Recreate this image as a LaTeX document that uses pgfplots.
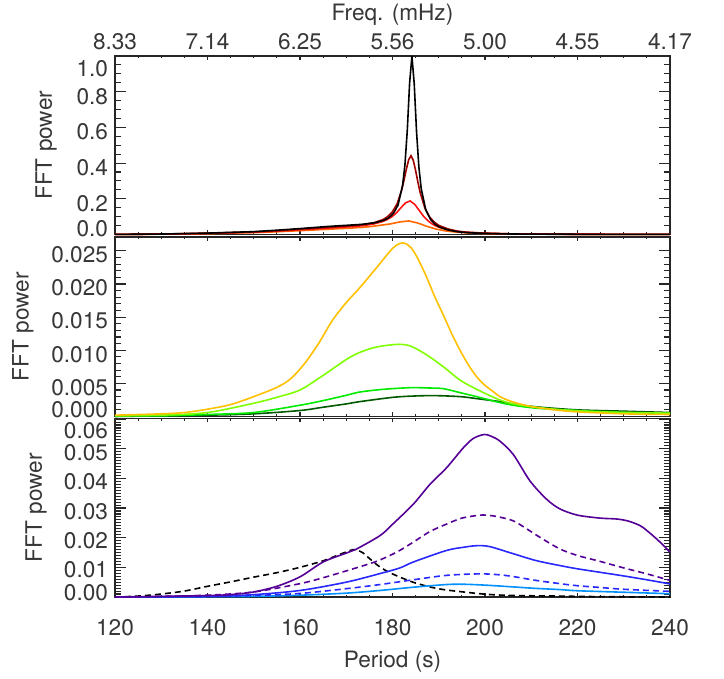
\documentclass[border=0pt]{standalone}
\usepackage{fontspec}
\setmainfont{TeX Gyre Heros}
\usepackage{pgfplots}
\pgfplotsset{compat=1.18}
\definecolor{cDarkRed}{RGB}{160,0,0}
\definecolor{cRed}{RGB}{255,20,20}
\definecolor{cOrange}{RGB}{255,105,0}
\definecolor{cGold}{RGB}{255,192,0}
\definecolor{cLime}{RGB}{128,255,0}
\definecolor{cGreen}{RGB}{0,235,0}
\definecolor{cDkGreen}{RGB}{0,90,0}
\definecolor{cPurple}{RGB}{85,0,150}
\definecolor{cBlue}{RGB}{40,40,255}
\definecolor{cLtBlue}{RGB}{0,145,255}
\definecolor{txt}{RGB}{55,55,55}
\newcommand{\tl}[2]{\smash{\raisebox{#1}{#2}}}
\newcommand{\fs}{\fontsize{11.3}{13.5}\selectfont}
\pgfplotsset{
  panel/.style={
    scale only axis, width=277.5pt, height=89.25pt,
    anchor=south west,
    xmin=120, xmax=240, xtick={120,140,160,180,200,220,240},
    minor x tick num=3,
    tick align=inside, tick pos=both,
    scaled y ticks=false, scaled x ticks=false,
    /pgf/number format/assume math mode=true,
    axis line style={line width=0.7pt, black!85},
    xtick style={black!85, line width=0.55pt, /pgfplots/major tick length=2pt, /pgfplots/minor tick length=1.1pt},
    ytick style={black!85, line width=0.55pt, /pgfplots/major tick length=5.5pt, /pgfplots/minor tick length=2.8pt},
    tick label style={font=\fs, text=txt},
    yticklabel style={anchor=east},
    label style={font=\fs, text=txt},
    ylabel={FFT power},
    clip=false,
    every axis plot/.append style={line width=0.8pt, mark=none},
  },
  dsh/.style={dash pattern=on 3pt off 2pt},
}
\begin{document}
\begin{tikzpicture}
\path[use as bounding box] (0pt,0pt) rectangle (362pt,339.5pt);

% ---------------- top panel ----------------
\begin{axis}[panel, at={(57.5pt,222.25pt)},
  ymin=0, ymax=1.0, ytick={0,0.2,0.4,0.6,0.8,1.0}, minor y tick num=3,
  yticklabels={\tl{-0.9pt}{0.0},\tl{-6.3pt}{0.2},\tl{-6.3pt}{0.4},\tl{-6.3pt}{0.6},\tl{-6.3pt}{0.8},\tl{-10.2pt}{1.0}},
  xticklabel pos=upper,
  xticklabels={8.33,7.14,6.25,5.56,5.00,4.55,4.17},
  xticklabel style={anchor=base, yshift=3.1pt},
  xlabel={Freq. (mHz)},
  xlabel style={at={(axis description cs:0.5,1)}, anchor=base, yshift=17.6pt},
  ylabel style={at={(axis description cs:-0.124,0.5)}, anchor=center},
]
\addplot[cOrange] coordinates {(120,0.0004)(130,0.0018)(140,0.005)(150,0.0104)(155,0.0151)(160,0.0214)(165.5,0.0285)(168.5,0.0327)(170.5,0.035)(173.5,0.040)(175.5,0.045)(177.5,0.052)(179.5,0.059)(181.5,0.070)(183.5,0.076)(185.5,0.064)(187.5,0.045)(189.5,0.030)(191.5,0.020)(193.5,0.014)(195.5,0.010)(199.5,0.0059)(203.5,0.0037)(210,0.0021)(220,0.0011)(230,0.0007)(240,0.0005)};
\addplot[cRed] coordinates {(120,0.0004)(130,0.0021)(140,0.0062)(150,0.0129)(155,0.0186)(160,0.0264)(165.5,0.035)(168.5,0.040)(170.5,0.043)(173.5,0.049)(175.8,0.058)(177.8,0.072)(178.8,0.083)(179.8,0.098)(180.8,0.120)(181.8,0.149)(182.8,0.177)(183.8,0.188)(184.8,0.169)(185.8,0.134)(186.8,0.099)(187.8,0.074)(188.8,0.055)(189.8,0.043)(191.8,0.027)(193.8,0.0173)(195.8,0.012)(199.8,0.0069)(203.8,0.0043)(210,0.0024)(220,0.0013)(230,0.0008)(240,0.0005)};
\addplot[cDarkRed] coordinates {(120,0.0005)(130,0.0023)(140,0.007)(150,0.0144)(155,0.021)(160,0.030)(165.5,0.039)(168.5,0.045)(170.5,0.048)(173.5,0.055)(176.0,0.066)(178.0,0.084)(179.0,0.101)(180.0,0.128)(181.0,0.172)(182.0,0.250)(182.5,0.305)(183.0,0.367)(183.5,0.419)(184.0,0.441)(184.5,0.415)(185.0,0.358)(185.5,0.292)(186.0,0.233)(187.0,0.148)(188.0,0.099)(189.0,0.070)(190.0,0.051)(192.0,0.031)(194.0,0.019)(196.0,0.013)(200.0,0.0075)(205,0.0039)(210,0.0026)(220,0.0014)(230,0.0008)(240,0.0006)};
\addplot[black] coordinates {(120,0.0003)(130,0.0025)(140,0.0077)(150,0.016)(155,0.024)(160,0.033)(165.5,0.044)(168.5,0.049)(170.5,0.052)(173.5,0.057)(176.2,0.066)(178.2,0.080)(179.2,0.094)(180.2,0.118)(181.2,0.165)(182.2,0.278)(182.7,0.394)(183.2,0.585)(183.7,0.848)(184.2,1.000)(184.7,0.843)(185.2,0.575)(185.7,0.379)(186.2,0.258)(187.2,0.137)(188.2,0.085)(189.2,0.057)(190.2,0.041)(192.2,0.024)(194.2,0.015)(196.2,0.010)(200.2,0.0055)(205,0.0029)(210,0.0019)(220,0.0010)(230,0.0006)(240,0.0004)};
\end{axis}

% ---------------- middle panel ----------------
\begin{axis}[panel, at={(57.5pt,131.25pt)}, height=89.75pt,
  ymin=0, ymax=0.0271, ytick={0,0.005,0.010,0.015,0.020,0.025}, minor y tick num=4,
  yticklabels={\tl{-0.3pt}{0.000},\tl{-5.9pt}{0.005},\tl{-5.9pt}{0.010},\tl{-5.9pt}{0.015},\tl{-5.9pt}{0.020},\tl{-5.9pt}{0.025}},
  xticklabels={},
  ylabel style={at={(axis description cs:-0.166,0.5)}, anchor=center},
  every axis plot/.append style={smooth, tension=0.5},
]
\addplot[cDkGreen] coordinates {(120,0.0000)(130,0.0001)(140,0.0002)(150,0.0004)(160,0.0009)(165,0.0014)(170,0.0019)(173,0.00225)(180.2,0.0029)(185,0.0031)(189.2,0.00315)(194.6,0.0030)(198.2,0.0027)(203.2,0.00225)(207,0.0018)(212,0.0014)(220,0.0010)(230,0.0008)(240,0.0006)};
\addplot[cGreen] coordinates {(120,0.0001)(130,0.0001)(140,0.0003)(150,0.0006)(160,0.0017)(165,0.0024)(170,0.0032)(173,0.0037)(178,0.0041)(183.8,0.00435)(188,0.0043)(191,0.0042)(194.6,0.0036)(198.2,0.0030)(203.2,0.0021)(207,0.0016)(212,0.0012)(220,0.0009)(230,0.0006)(240,0.0005)};
\addplot[cLime] coordinates {(120,0.0001)(130,0.0002)(140,0.0006)(150,0.0020)(155,0.0029)(160,0.0040)(165,0.0062)(170,0.0086)(173,0.0097)(176.6,0.0105)(181.3,0.0109)(184,0.0106)(187.4,0.0093)(191,0.0075)(194.6,0.0055)(198.2,0.0041)(203.2,0.0025)(207,0.0018)(215,0.0011)(225,0.0007)(240,0.0005)};
\addplot[cGold] coordinates {(120,0.0002)(130,0.0004)(135,0.0006)(140,0.0011)(145,0.0018)(150,0.0030)(155,0.0044)(158,0.0057)(161,0.0080)(164,0.0110)(167,0.0145)(170,0.0172)(173,0.0195)(176.6,0.0225)(180.2,0.0255)(182.3,0.0262)(184,0.0255)(185.5,0.0238)(187.4,0.0210)(189,0.0183)(191,0.0153)(192.8,0.0125)(194.6,0.0100)(196.4,0.0078)(198.2,0.0060)(200,0.0047)(201.8,0.00375)(203.2,0.0030)(206,0.0022)(210,0.0015)(215,0.0010)(220,0.0007)(230,0.0004)(240,0.0003)};
\end{axis}

% ---------------- bottom panel ----------------
\begin{axis}[panel, at={(57.5pt,41pt)},
  ymin=0, ymax=0.0602, ytick={0,0.01,0.02,0.03,0.04,0.05,0.06}, minor y tick num=9,
  yticklabels={\tl{-1.6pt}{0.00},\tl{-5.2pt}{0.01},\tl{-5.4pt}{0.02},\tl{-5.5pt}{0.03},\tl{-5.6pt}{0.04},\tl{-5.7pt}{0.05},\tl{-9.75pt}{0.06}},
  xticklabels={120,140,160,180,200,220,240},
  xticklabel style={anchor=base, yshift=-19.5pt},
  xlabel={Period (s)},
  xlabel style={at={(axis description cs:0.5,0)}, anchor=base, yshift=-35.25pt},
  ylabel style={at={(axis description cs:-0.142,0.5)}, anchor=center},
  every axis plot/.append style={smooth, tension=0.5},
]
\addplot[black, dsh] coordinates {(120,0.0000)(125,0.0003)(130,0.0010)(135,0.0020)(140,0.0036)(145,0.0051)(150,0.0067)(155,0.0082)(160,0.0100)(165,0.0122)(168,0.0140)(170,0.0152)(171.8,0.0160)(173.5,0.0150)(175.3,0.0126)(177.3,0.0101)(179.3,0.0083)(181.6,0.0067)(184.8,0.0048)(188.1,0.0034)(191,0.0025)(195.3,0.0017)(200.4,0.0009)(206,0.0005)(216,0.0003)(226,0.0001)(240,0.0000)};
\addplot[cLtBlue] coordinates {(120,0)(140,0.0001)(150,0.0002)(160,0.0006)(170,0.0013)(177.3,0.0022)(184.5,0.0033)(191.7,0.0042)(195.3,0.0043)(200,0.0040)(206.1,0.0034)(211,0.0029)(216.2,0.0025)(220,0.0021)(230,0.0016)(240,0.0011)};
\addplot[cBlue, dsh] coordinates {(120,0)(140,0.0002)(150,0.0005)(160,0.0012)(170,0.0028)(177.3,0.0042)(184.5,0.0058)(191.7,0.0073)(198.9,0.0078)(203,0.0075)(206.1,0.0069)(211,0.0056)(216.2,0.0045)(220,0.0038)(225,0.0032)(230,0.0026)(240,0.0019)};
\addplot[cBlue] coordinates {(120,0)(140,0.0002)(150,0.0008)(160,0.0022)(170,0.0050)(177.3,0.0079)(181.6,0.0098)(184.5,0.0118)(191.7,0.0157)(195.5,0.0168)(198.2,0.0173)(201,0.0170)(206.1,0.0146)(211,0.0123)(216.2,0.0106)(220,0.0095)(225,0.0083)(230,0.0071)(235,0.0058)(240,0.0044)};
\addplot[cPurple, dsh] coordinates {(120,0)(130,0.0002)(140,0.0006)(150,0.0017)(160,0.0045)(165,0.0065)(170,0.0088)(175,0.0112)(177.3,0.0125)(181,0.0152)(184.5,0.0185)(188,0.0220)(191.7,0.0246)(195,0.0266)(198.9,0.0276)(201,0.0275)(203,0.0270)(206.1,0.0257)(209,0.0230)(211.9,0.0201)(216.2,0.0162)(220,0.0140)(224.9,0.0120)(230,0.0098)(235,0.0078)(240,0.0056)};
\addplot[cPurple] coordinates {(120,0)(130,0.0002)(140,0.0005)(145,0.0008)(150,0.0017)(155,0.0036)(160,0.0068)(165,0.0118)(170,0.0148)(172,0.0160)(177.3,0.0207)(180,0.0245)(184.5,0.0313)(188.1,0.0380)(191.7,0.0436)(195.3,0.0503)(197.5,0.0535)(199.8,0.0548)(201.2,0.0543)(203.2,0.0526)(206.1,0.0481)(209.7,0.0392)(213.3,0.0330)(216.2,0.0297)(220,0.0276)(224.9,0.0266)(228.5,0.0263)(231,0.0256)(233.5,0.0241)(235,0.0224)(237.1,0.0196)(238.5,0.0175)(240,0.0151)};
\end{axis}
\end{tikzpicture}
\end{document}
